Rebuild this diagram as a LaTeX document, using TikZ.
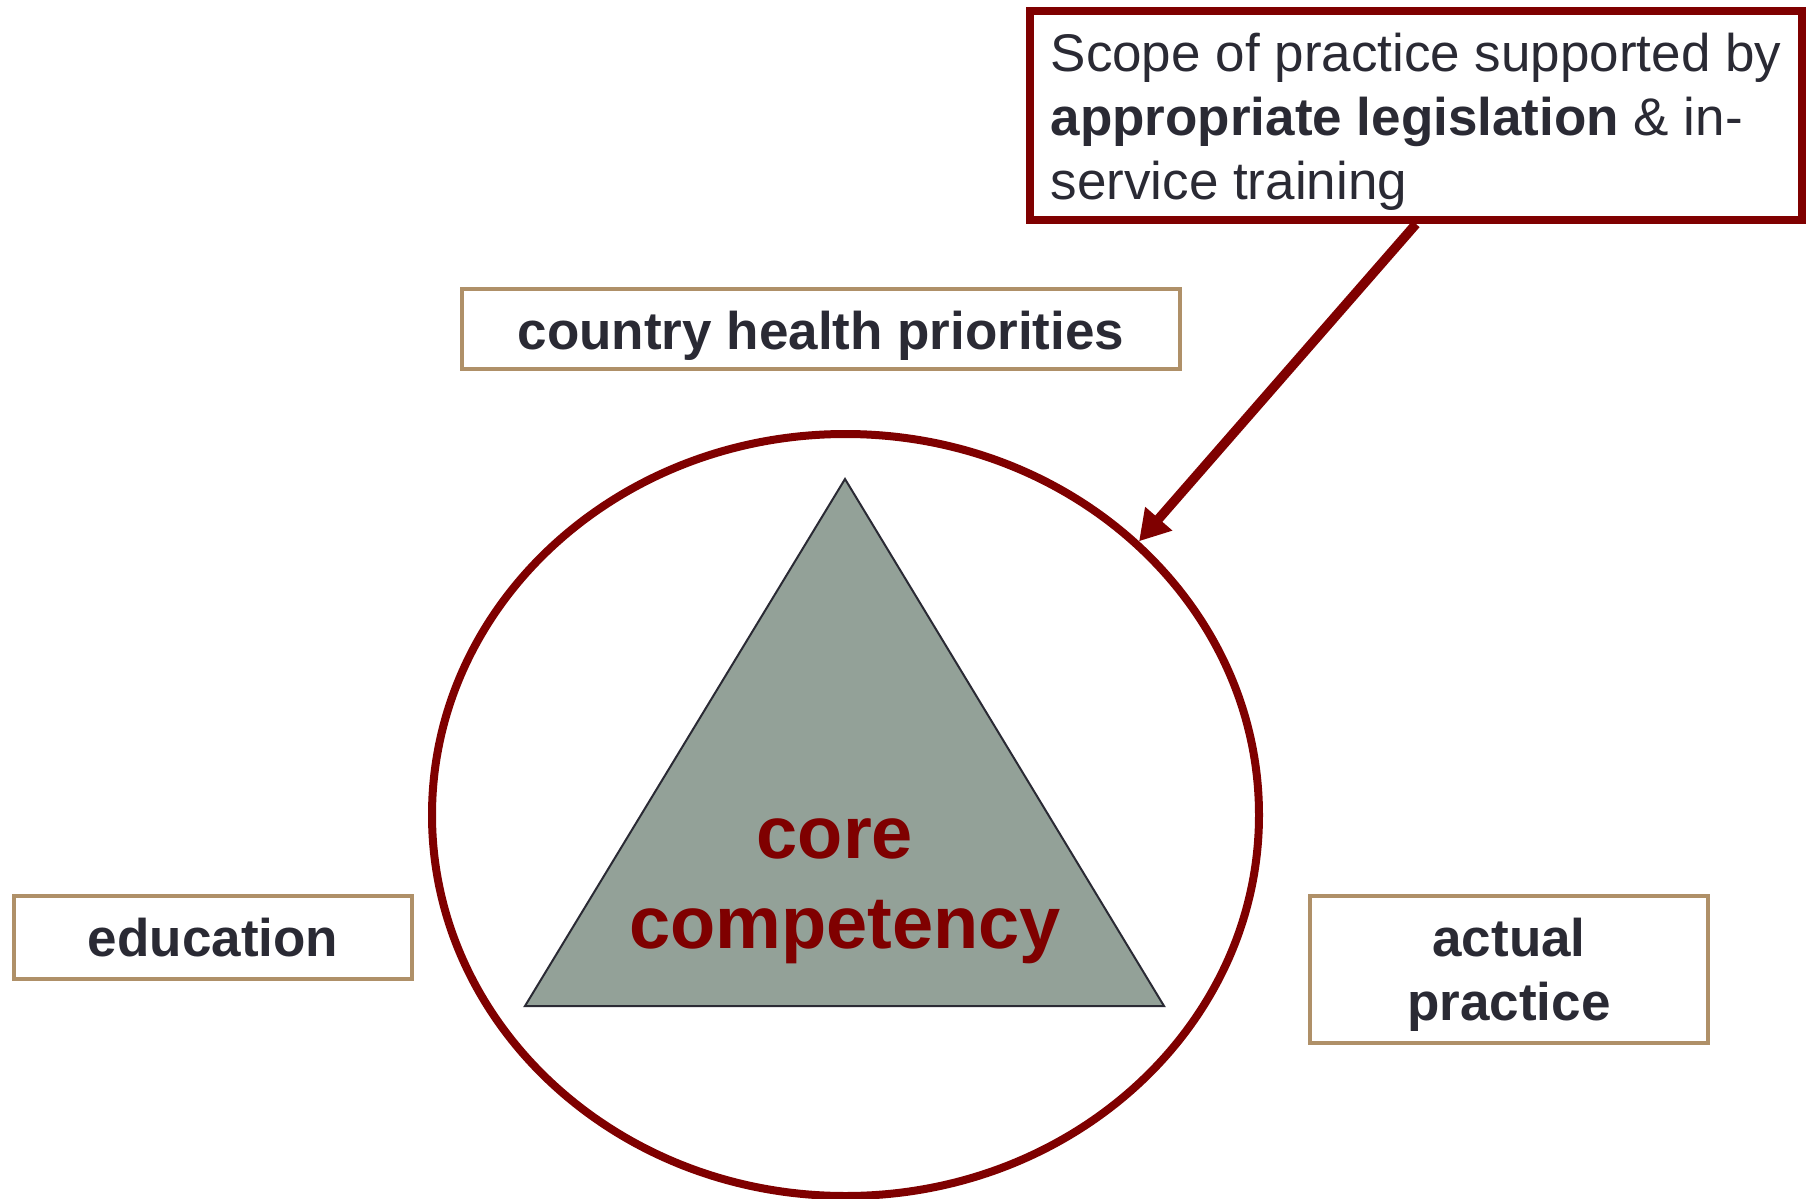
\documentclass[tikz,border=0pt]{standalone}
\usepackage{fontspec}
\setmainfont{Liberation Sans}
\usetikzlibrary{shapes.geometric,arrows.meta}
\definecolor{ringred}{HTML}{7F0000}
\definecolor{tanline}{HTML}{AF9068}
\definecolor{ink}{HTML}{2A2A34}
\definecolor{sage}{HTML}{93A198}
\begin{document}
\begin{tikzpicture}[x=1pt,y=-1pt,
  labelbox/.style={draw=tanline, line width=4.5pt, fill=white, inner sep=0pt,
    font=\fontsize{53}{64}\selectfont\bfseries, text=ink, align=center},
  scopebox/.style={draw=ringred, line width=8pt, fill=white, inner sep=0pt,
    minimum width=772pt, minimum height=209pt, align=left,
    font=\fontsize{53}{64}\selectfont, text=ink},
  ring/.style={draw=ringred, line width=8pt, ellipse, inner sep=0pt,
    minimum width=827pt, minimum height=762pt},
  pointer/.style={draw=ringred, line width=9.5pt,
    -{Triangle[length=30pt,width=34pt]}},
  corelabel/.style={font=\fontsize{74}{90}\selectfont\bfseries, text=ringred,
    align=center, inner sep=0pt}
]
\useasboundingbox (0,0) rectangle (1813,1199);

% outer ring
\node[ring] (ring) at (845.5,815) {};

% central triangle
\coordinate (apex) at (845,479);
\coordinate (baseL) at (525,1006);
\coordinate (baseR) at (1164,1006);
\filldraw[fill=sage, draw=ink, line width=2pt, line join=miter]
  (apex) -- (baseL) -- (baseR) -- cycle;
\node[corelabel, anchor=base] (core) at (845,948) {core\hspace*{20pt}\\competency};

% surrounding factors
\node[labelbox, minimum width=718pt, minimum height=80pt,
      text height=52pt, text depth=11pt] (priorities)
  at (821,329) {country health priorities};
\node[labelbox, minimum width=398pt, minimum height=83pt] (education)
  at (213,937.5) {education};
\node[labelbox, minimum width=398pt, minimum height=147pt,
      text height=112pt, text depth=11pt] (practice)
  at (1509,969.5) {actual\\practice};

% scope of practice callout
\node[scopebox, text height=179pt, text depth=11.5pt] (scope) at (1416,115.5)
  {Scope of practice supported by\\
   \textbf{appropriate legislation} \& in-\\
   service training};
\draw[pointer] (scope.south) -- (ring.43);
\end{tikzpicture}
\end{document}
